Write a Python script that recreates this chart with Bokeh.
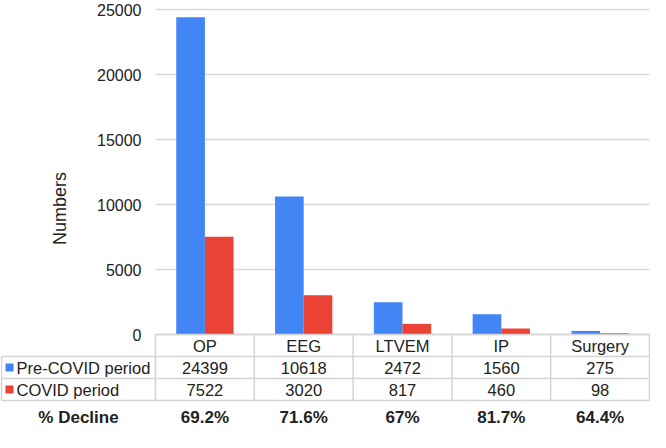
import numpy as np
from bokeh.plotting import figure
from bokeh.models import ColumnDataSource, FixedTicker, Range1d
from bokeh.transform import dodge
from bokeh.core.properties import value
from bokeh.embed import file_html
from bokeh.resources import INLINE

# ---- data ----
categories = ["OP", "EEG", "LTVEM", "IP", "Surgery"]
pre_covid = [24399, 10618, 2472, 1560, 275]
covid = [7522, 3020, 817, 460, 98]
decline = ["69.2%", "71.6%", "67%", "81.7%", "64.4%"]
series_names = ["Pre-COVID period", "COVID period"]
decline_label = "% Decline"
y_ticks = [0, 5000, 10000, 15000, 20000, 25000]
y_title = "Numbers"

# ---- layout constants (pixels) ----
W, H = 650, 432
PX = 98.8          # px per category column
X0 = 155           # px where the category columns start
Y_TOP = 9          # px of top tick
Y_ZERO = 334       # px of zero line
UPP = max(y_ticks) / (Y_ZERO - Y_TOP)   # data units per pixel
ROW = 22           # table row height px
DECL = 83          # px below zero of the decline row centre
LABEL_CY = 208     # px of the y-axis title centre

BLUE = "#4285f4"
RED = "#ea4335"
BORDER = "#d4d4d4"
TXT = "#222222"
FONT = value("Liberation Sans")

n = len(categories)
x_start = -X0 / PX
x_end = (W - X0) / PX
LB = -(X0 - 1) / PX                      # left border of label column
y_end = max(y_ticks) + Y_TOP * UPP
y_start = -(H - Y_ZERO) * UPP

def py(off):
    """pixels below zero line -> data units"""
    return -off * UPP

p = figure(width=W, height=H, output_backend="svg", toolbar_location=None,
           x_range=Range1d(x_start, x_end), y_range=Range1d(y_start, y_end),
           x_axis_location=None, min_border=0)
p.outline_line_color = None
p.background_fill_color = "white"
p.border_fill_color = "white"
p.xgrid.visible = False

ticker = FixedTicker(ticks=y_ticks)
g = p.ygrid[0]
g.ticker = ticker
g.grid_line_color = "#dadada"
g.grid_line_width = 1.5
try:
    g.cross_bounds = (0, n)
except Exception:
    pass

label_mid = py(LABEL_CY - Y_ZERO)
ax = p.yaxis[0]
ax.fixed_location = 0
ax.ticker = ticker
ax.bounds = (2 * label_mid - max(y_ticks), max(y_ticks))
ax.axis_line_color = None
ax.major_tick_line_color = None
ax.minor_tick_line_color = None
ax.major_tick_out = 0
ax.major_label_standoff = 14
ax.major_label_text_font = "Liberation Sans"
ax.major_label_text_font_size = "16px"
ax.major_label_text_color = TXT
ax.axis_label = y_title
ax.axis_label_text_font = "Liberation Sans"
ax.axis_label_text_font_size = "18px"
ax.axis_label_text_font_style = "normal"
ax.axis_label_text_color = TXT
ax.axis_label_standoff = 24

# ---- bars ----
xc = np.arange(n) + 0.5
bw = 0.29
src = ColumnDataSource(dict(x=xc, pre=pre_covid, cov=covid))
p.vbar(x=dodge("x", -bw / 2, range=p.x_range), top="pre", width=bw, bottom=0,
       source=src, fill_color=BLUE, line_color=None)
p.vbar(x=dodge("x", bw / 2, range=p.x_range), top="cov", width=bw, bottom=0,
       source=src, fill_color=RED, line_color=None)

# ---- table borders ----
x0s, y0s, x1s, y1s = [], [], [], []
for k in range(4):
    x0s.append(0); x1s.append(n); y0s.append(py(k * ROW)); y1s.append(py(k * ROW))
for k in range(1, 4):
    x0s.append(LB); x1s.append(0); y0s.append(py(k * ROW)); y1s.append(py(k * ROW))
for i in range(n + 1):
    x0s.append(i); x1s.append(i); y0s.append(py(0)); y1s.append(py(3 * ROW))
x0s.append(LB); x1s.append(LB); y0s.append(py(ROW)); y1s.append(py(3 * ROW))
p.segment(x0=x0s, y0=y0s, x1=x1s, y1=y1s, line_color=BORDER, line_width=1.5)

# ---- table text ----
row_y = [py(0.5 * ROW), py(1.5 * ROW), py(2.5 * ROW)]
tx, ty, tt = [], [], []
for i in range(n):
    for r, vals in enumerate([categories, pre_covid, covid]):
        tx.append(xc[i]); ty.append(row_y[r]); tt.append(str(vals[i]))
p.text(x=tx, y=ty, text=tt, text_font=FONT, text_font_size="16.5px",
       text_align="center", text_baseline="middle", text_color=TXT)

p.text(x=list(xc), y=[py(DECL)] * n, text=decline, text_font=FONT,
       text_font_size="17px", text_font_style="bold", text_align="center",
       text_baseline="middle", text_color=TXT)
p.text(x=[(LB + 0) / 2], y=[py(DECL)], text=[decline_label], text_font=FONT,
       text_font_size="17px", text_font_style="bold", text_align="center",
       text_baseline="middle", text_color=TXT)

# ---- series labels with colour keys ----
sq_x = LB + 8 / PX
lab_x = LB + 15 / PX
p.scatter(x=[sq_x, sq_x], y=row_y[1:], marker="square", size=8,
          fill_color=[BLUE, RED], line_color=None)
p.text(x=[lab_x, lab_x], y=row_y[1:], text=series_names, text_font=FONT,
       text_font_size="16.5px", text_align="left", text_baseline="middle",
       text_color=TXT)

open("out.html", "w").write(file_html(p, INLINE))
